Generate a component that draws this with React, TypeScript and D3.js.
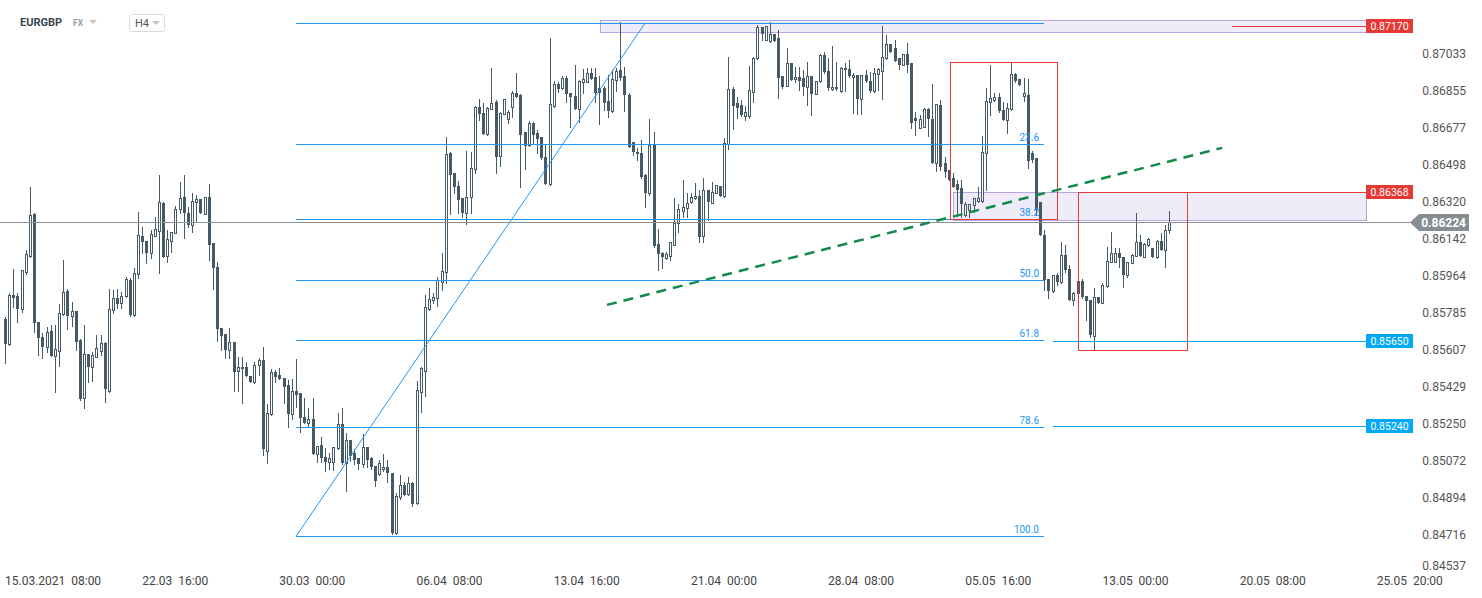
import React from 'react';
import * as d3 from 'd3';

// ---- data (EURGBP, H4) ----
const opens = [
0.85758,0.85637,0.85873,0.85868,0.85806,0.85984,0.86061,0.86264,0.85743,0.85671,
0.85622,0.85700,0.85579,0.85603,0.85782,0.85892,0.85772,0.85796,0.85656,0.85377,
0.85589,0.85526,0.85574,0.85603,0.85642,0.85410,0.85801,0.85859,0.85835,0.85868,
0.85945,0.85777,0.85974,0.86157,0.86133,0.86076,0.86157,0.86181,0.86316,0.86061,
0.86133,0.86172,0.86288,0.86345,0.86268,0.86210,0.86321,0.86336,0.86264,0.86345,
0.86124,0.86008,0.85714,0.85685,0.85608,0.85646,0.85507,0.85521,0.85526,0.85483,
0.85454,0.85536,0.85560,0.85121,0.85300,0.85502,0.85488,0.85473,0.85439,0.85300,
0.85410,0.85401,0.85285,0.85256,0.85276,0.85107,0.85150,0.85093,0.85068,0.85068,
0.85136,0.85251,0.85064,0.85174,0.85112,0.85088,0.85059,0.85141,0.85088,0.85049,
0.85010,0.85035,0.85044,0.85015,0.84726,0.84899,0.84957,0.84914,0.84967,0.84871,
0.85406,0.85507,0.85806,0.85849,0.85859,0.85936,0.85984,0.86557,0.86461,0.86398,
0.86341,0.86268,0.86345,0.86481,0.86779,0.86750,0.86649,0.86770,0.86803,0.86543,
0.86746,0.86721,0.86779,0.86847,0.86837,0.86659,0.86596,0.86702,0.86654,0.86635,
0.86538,0.86408,0.86784,0.86890,0.86871,0.86919,0.86847,0.86832,0.86770,0.86900,
0.86900,0.86943,0.86924,0.86871,0.86871,0.86808,0.86760,0.86909,0.86958,0.86929,
0.86837,0.86611,0.86562,0.86557,0.86452,0.86365,0.86596,0.86119,0.86076,0.86051,
0.86061,0.86114,0.86220,0.86278,0.86292,0.86321,0.86341,0.86350,0.86157,0.86379,
0.86316,0.86365,0.86398,0.86350,0.86601,0.86866,0.86799,0.86789,0.86736,0.86736,
0.86851,0.87015,0.87165,0.87102,0.87097,0.87131,0.87112,0.86929,0.86880,0.86991,
0.86914,0.86924,0.86919,0.86875,0.86929,0.86842,0.86904,0.87030,0.86953,0.86866,
0.86875,0.86856,0.86967,0.86962,0.86924,0.86934,0.86818,0.86934,0.86904,0.86856,
0.86938,0.86953,0.87015,0.87083,0.87064,0.87015,0.86982,0.87035,0.86991,0.86726,
0.86678,0.86683,0.86770,0.86721,0.86509,0.86789,0.86509,0.86476,0.86437,0.86408,
0.86389,0.86259,0.86283,0.86307,0.86326,0.86326,0.86557,0.86803,0.86813,0.86827,
0.86765,0.86717,0.86770,0.86938,0.86914,0.86832,0.86837,0.86557,0.86533,0.86321,
0.86162,0.85950,0.85892,0.85970,0.85936,0.86066,0.85998,0.85849,0.85941,0.85941,
0.85868,0.85849,0.85675,0.85863,0.85835,0.85916,0.86032,0.86032,0.86076,0.86056,
0.85970,0.86027,0.86061,0.86128,0.86056,0.86114,0.86100,0.86056,0.86133,0.86090,
0.86186];

const highs = [
0.85767,0.85883,0.85998,0.85883,0.85994,0.86090,0.86394,0.86268,0.85743,0.85690,
0.85719,0.85729,0.85729,0.85830,0.86042,0.85902,0.85839,0.85796,0.85661,0.85729,
0.85589,0.85598,0.85680,0.85680,0.85646,0.85902,0.85897,0.85902,0.85888,0.85960,
0.85955,0.86003,0.86273,0.86201,0.86133,0.86186,0.86249,0.86452,0.86321,0.86186,
0.86177,0.86302,0.86418,0.86452,0.86297,0.86365,0.86355,0.86336,0.86345,0.86408,
0.86124,0.86032,0.85714,0.85685,0.85714,0.85646,0.85574,0.85574,0.85550,0.85483,
0.85550,0.85570,0.85622,0.85348,0.85517,0.85512,0.85521,0.85473,0.85463,0.85468,
0.85565,0.85401,0.85377,0.85329,0.85377,0.85145,0.85189,0.85136,0.85112,0.85141,
0.85304,0.85329,0.85208,0.85174,0.85131,0.85088,0.85203,0.85141,0.85093,0.85049,
0.85078,0.85107,0.85078,0.85015,0.84919,0.85006,0.84972,0.84996,0.84972,0.85459,
0.85526,0.85873,0.85907,0.85883,0.85960,0.86076,0.86635,0.86562,0.86461,0.86423,
0.86341,0.86567,0.86562,0.86784,0.86818,0.86799,0.86779,0.86967,0.86813,0.86755,
0.86818,0.86765,0.86856,0.86943,0.86842,0.86659,0.86712,0.86707,0.86669,0.86635,
0.86596,0.87112,0.86904,0.86900,0.86929,0.86929,0.86847,0.86982,0.86909,0.86962,
0.86967,0.86967,0.86967,0.86929,0.86880,0.86934,0.86958,0.86967,0.87189,0.86972,
0.86847,0.86611,0.86582,0.86620,0.86456,0.86721,0.86659,0.86191,0.86080,0.86080,
0.86128,0.86341,0.86312,0.86427,0.86365,0.86365,0.86413,0.86379,0.86437,0.86379,
0.86418,0.86403,0.86398,0.86630,0.87020,0.86875,0.86827,0.86813,0.86784,0.86977,
0.87020,0.87174,0.87165,0.87170,0.87189,0.87131,0.87150,0.86929,0.87064,0.86991,
0.86972,0.86972,0.86958,0.86996,0.86929,0.86904,0.87035,0.87044,0.87015,0.87073,
0.86996,0.86972,0.86991,0.87006,0.86943,0.86934,0.86934,0.86958,0.86948,0.86967,
0.86967,0.87170,0.87126,0.87083,0.87102,0.87015,0.87035,0.87088,0.86991,0.86755,
0.86741,0.86775,0.86775,0.86890,0.86794,0.86813,0.86538,0.86476,0.86461,0.86427,
0.86427,0.86321,0.86312,0.86341,0.86394,0.86640,0.86871,0.86982,0.86847,0.86847,
0.86803,0.86799,0.86996,0.86943,0.86914,0.86919,0.86914,0.86567,0.86533,0.86321,
0.86186,0.85950,0.85970,0.85979,0.86128,0.86114,0.86018,0.85888,0.85945,0.85950,
0.85868,0.85849,0.85907,0.85863,0.85931,0.86104,0.86177,0.86100,0.86100,0.86056,
0.86032,0.86071,0.86268,0.86162,0.86124,0.86148,0.86100,0.86138,0.86172,0.86210,
0.86278];

const lows = [
0.85546,0.85632,0.85815,0.85743,0.85791,0.85974,0.86056,0.85695,0.85584,0.85570,
0.85598,0.85579,0.85406,0.85531,0.85777,0.85709,0.85724,0.85608,0.85367,0.85329,
0.85454,0.85459,0.85574,0.85584,0.85357,0.85406,0.85786,0.85810,0.85810,0.85863,
0.85772,0.85772,0.85955,0.86076,0.86027,0.86051,0.86157,0.85979,0.86056,0.86032,
0.86080,0.86172,0.86268,0.86148,0.86201,0.86177,0.86225,0.86268,0.86264,0.86042,
0.85902,0.85651,0.85608,0.85570,0.85570,0.85410,0.85410,0.85352,0.85483,0.85454,
0.85449,0.85488,0.85102,0.85064,0.85295,0.85454,0.85468,0.85352,0.85237,0.85276,
0.85333,0.85213,0.85256,0.85242,0.85107,0.85068,0.85068,0.85025,0.85035,0.85030,
0.85131,0.85059,0.84928,0.85073,0.85059,0.85035,0.85044,0.85044,0.85035,0.84952,
0.85006,0.85025,0.84972,0.84721,0.84721,0.84890,0.84909,0.84909,0.84856,0.84866,
0.85309,0.85386,0.85801,0.85835,0.85820,0.85897,0.85931,0.86264,0.86365,0.86268,
0.86249,0.86215,0.86268,0.86461,0.86717,0.86649,0.86644,0.86770,0.86461,0.86495,
0.86746,0.86702,0.86731,0.86827,0.86394,0.86481,0.86591,0.86601,0.86557,0.86529,
0.86408,0.86403,0.86779,0.86851,0.86866,0.86803,0.86683,0.86770,0.86707,0.86847,
0.86900,0.86914,0.86803,0.86698,0.86765,0.86731,0.86755,0.86856,0.86909,0.86760,
0.86586,0.86548,0.86524,0.86437,0.86297,0.86355,0.86104,0.85994,0.86003,0.86047,
0.86042,0.86114,0.86177,0.86249,0.86249,0.86316,0.86336,0.86128,0.86128,0.86235,
0.86316,0.86365,0.86350,0.86345,0.86577,0.86673,0.86726,0.86736,0.86717,0.86726,
0.86803,0.87010,0.87102,0.87102,0.87092,0.87097,0.86823,0.86871,0.86880,0.86909,
0.86900,0.86861,0.86837,0.86789,0.86741,0.86842,0.86900,0.86943,0.86861,0.86861,
0.86861,0.86851,0.86856,0.86924,0.86751,0.86746,0.86746,0.86900,0.86851,0.86851,
0.86861,0.86818,0.87010,0.87044,0.87001,0.86962,0.86982,0.86948,0.86678,0.86644,
0.86678,0.86683,0.86640,0.86509,0.86471,0.86476,0.86442,0.86427,0.86394,0.86254,
0.86249,0.86254,0.86249,0.86273,0.86321,0.86321,0.86379,0.86741,0.86808,0.86755,
0.86717,0.86654,0.86765,0.86900,0.86885,0.86808,0.86485,0.86514,0.86259,0.86162,
0.85897,0.85859,0.85888,0.85921,0.85931,0.85984,0.85849,0.85825,0.85859,0.85859,
0.85753,0.85671,0.85608,0.85835,0.85835,0.85912,0.86032,0.86032,0.86008,0.85912,
0.85960,0.86027,0.86061,0.86061,0.86056,0.86109,0.86056,0.86051,0.86090,0.86008,
0.86172];

const closes = [
0.85637,0.85873,0.85859,0.85806,0.85994,0.86071,0.86259,0.85738,0.85666,0.85622,
0.85695,0.85579,0.85613,0.85786,0.85888,0.85772,0.85796,0.85646,0.85372,0.85589,
0.85526,0.85584,0.85618,0.85642,0.85420,0.85806,0.85859,0.85830,0.85868,0.85950,
0.85777,0.85979,0.86162,0.86128,0.86076,0.86167,0.86191,0.86321,0.86056,0.86143,
0.86177,0.86288,0.86341,0.86268,0.86210,0.86326,0.86336,0.86268,0.86345,0.86114,
0.86003,0.85709,0.85675,0.85608,0.85646,0.85502,0.85526,0.85526,0.85483,0.85454,
0.85536,0.85560,0.85131,0.85304,0.85502,0.85478,0.85468,0.85430,0.85300,0.85410,
0.85391,0.85280,0.85256,0.85276,0.85107,0.85145,0.85088,0.85068,0.85088,0.85141,
0.85251,0.85064,0.85174,0.85097,0.85078,0.85059,0.85141,0.85078,0.85044,0.84976,
0.85064,0.85044,0.85015,0.84726,0.84904,0.84957,0.84909,0.84967,0.84866,0.85415,
0.85521,0.85815,0.85854,0.85863,0.85945,0.85989,0.86553,0.86452,0.86394,0.86331,
0.86268,0.86345,0.86485,0.86779,0.86746,0.86649,0.86774,0.86799,0.86538,0.86750,
0.86818,0.86755,0.86847,0.86827,0.86644,0.86591,0.86702,0.86644,0.86625,0.86533,
0.86408,0.86794,0.86890,0.86866,0.86919,0.86842,0.86827,0.86770,0.86904,0.86914,
0.86943,0.86914,0.86847,0.86847,0.86799,0.86760,0.86914,0.86953,0.86919,0.86837,
0.86586,0.86562,0.86553,0.86442,0.86365,0.86596,0.86109,0.86071,0.86056,0.86071,
0.86128,0.86220,0.86288,0.86297,0.86316,0.86345,0.86350,0.86152,0.86379,0.86321,
0.86370,0.86403,0.86350,0.86606,0.86866,0.86784,0.86774,0.86741,0.86755,0.86861,
0.87015,0.87165,0.87131,0.87170,0.87131,0.87097,0.86919,0.86875,0.86991,0.86909,
0.86924,0.86904,0.86875,0.86929,0.86842,0.86904,0.87030,0.86948,0.86871,0.86875,
0.86866,0.86967,0.86958,0.86929,0.86934,0.86818,0.86934,0.86904,0.86856,0.86943,
0.86962,0.87020,0.87083,0.87044,0.87001,0.86982,0.87035,0.86982,0.86702,0.86712,
0.86721,0.86770,0.86721,0.86509,0.86794,0.86490,0.86466,0.86427,0.86394,0.86379,
0.86312,0.86312,0.86312,0.86341,0.86341,0.86562,0.86808,0.86823,0.86827,0.86760,
0.86717,0.86775,0.86938,0.86904,0.86885,0.86847,0.86519,0.86524,0.86283,0.86162,
0.85945,0.85892,0.85970,0.85936,0.86066,0.85994,0.85849,0.85883,0.85878,0.85863,
0.85844,0.85680,0.85863,0.85835,0.85921,0.86037,0.86076,0.86076,0.86051,0.85970,
0.86032,0.86066,0.86128,0.86061,0.86119,0.86143,0.86056,0.86133,0.86090,0.86186,
0.86224];

const yTickValues = [0.87033, 0.86855, 0.86677, 0.86498, 0.86320, 0.86142, 0.85964, 0.85785,
  0.85607, 0.85429, 0.85250, 0.85072, 0.84894, 0.84716, 0.84537];

const xTickLabels = ['15.03.2021  08:00', '22.03  16:00', '30.03  00:00', '06.04  08:00', '13.04  16:00',
  '21.04  00:00', '28.04  08:00', '05.05  16:00', '13.05  00:00', '20.05  08:00', '25.05  20:00'];
const xTickIndex = [0, 33, 66, 99, 132, 165, 198, 231, 264, 297, 330];

const fibLevels = [0, 23.6, 38.2, 50, 61.8, 78.6, 100];
const fibLabels = ['', '23.6', '38.2', '50.0', '61.8', '78.6', '100.0'];
const fibLow = 0.84709;
const fibHigh = 0.87184;
const fibIndex = [70, 154, 250]; // start, end of trend, right extent

const trendLine = [ { i: 144.8, p: 0.85825 }, { i: 292.8, p: 0.86582 } ];

const zones = [
  { i0: 143.2, p0: 0.87199, p1: 0.87141 },
  { i0: 228, p0: 0.86368, p1: 0.86235 },
];
const boxes = [
  { i0: 227.2, i1: 253.1, p0: 0.86998, p1: 0.86238 },
  { i0: 258.2, i1: 284.3, p0: 0.86370, p1: 0.85608 },
];
const levelTags = [
  { p: 0.87170, text: '0.87170', color: '#e53935', from: 295.2 },
  { p: 0.86368, text: '0.86368', color: '#e53935', from: 278.1 },
  { p: 0.85650, text: '0.85650', color: '#03a9f4', from: 252.1 },
  { p: 0.85240, text: '0.85240', color: '#03a9f4', from: 252.1 },
];
const lastPrice = 0.86224;

export default function App() {
  const x = d3.scaleLinear().domain([0, closes.length - 1]).range([5, 1169]);
  const y = d3.scaleLinear().domain([0.84537, 0.872946]).range([572.1, 0]);
  const col = '#455a64';
  const blue = '#2196f3';
  const tagX = 1366;
  const font = 'Roboto, "Noto Sans", sans-serif';
  const hy = (p: number) => Math.round(y(p)) + 0.5;

  const fibY = (lv: number) => fibHigh - (lv / 100) * (fibHigh - fibLow);
  const lastY = hy(lastPrice);

  return (
    <div>
      <style>{`body{margin:0;background:#fff}`}</style>
      <svg width={1482} height={598} style={{ display: 'block', fontFamily: font }}>
        <rect x={0} y={0} width={1482} height={598} fill="#fff" />
        {/* zones */}
        {zones.map((z, k) => (
          <rect key={k} x={Math.round(x(z.i0)) + 0.5} y={hy(z.p0)}
            width={tagX - Math.round(x(z.i0))} height={Math.round(y(z.p1)) - Math.round(y(z.p0))}
            fill="rgba(103,58,183,0.1)" stroke="#b9a6e0" strokeWidth={1} />
        ))}
        {/* candles */}
        {closes.map((c, i) => {
          const o = opens[i];
          const px = Math.round(x(i));
          const up = c >= o;
          const yT = Math.round(y(Math.max(o, c)));
          const yB = Math.round(y(Math.min(o, c)));
          const yH = Math.round(y(highs[i]));
          const yL = Math.round(y(lows[i]));
          return (
            <g key={i}>
              <line x1={px + 0.5} x2={px + 0.5} y1={yH} y2={yL + 1} stroke={col} strokeWidth={1} />
              {up ? (
                <rect x={px - 0.5} y={yT + 0.5} width={2} height={Math.max(yB - yT, 1)} fill="#fff" stroke={col} strokeWidth={1} />
              ) : (
                <rect x={px - 1} y={yT} width={3} height={Math.max(yB - yT, 1)} fill={col} />
              )}
            </g>
          );
        })}
        {/* fibonacci */}
        {fibLevels.map((lv, k) => {
          const yy = hy(fibY(lv));
          return (
            <g key={k}>
              <line x1={Math.round(x(fibIndex[0]))} x2={Math.round(x(fibIndex[2]))} y1={yy} y2={yy} stroke={blue} strokeWidth={1} />
              <text x={Math.round(x(fibIndex[2])) - 5} y={yy - 4} textAnchor="end" fontSize={10} fill={blue}>{fibLabels[k]}</text>
            </g>
          );
        })}
        <line x1={x(fibIndex[0])} y1={y(fibLow)} x2={x(fibIndex[1])} y2={y(fibHigh)} stroke={blue} strokeWidth={1} />
        {/* last price line */}
        <line x1={0} x2={1410} y1={lastY} y2={lastY} stroke="#8a9296" strokeWidth={1} />
        {/* boxes */}
        {boxes.map((b, k) => (
          <rect key={k} x={Math.round(x(b.i0)) + 0.5} y={hy(b.p0)}
            width={Math.round(x(b.i1)) - Math.round(x(b.i0))} height={Math.round(y(b.p1)) - Math.round(y(b.p0))}
            fill="none" stroke="#e53935" strokeWidth={1} />
        ))}
        {/* trend line */}
        <line x1={x(trendLine[0].i)} y1={y(trendLine[0].p)} x2={x(trendLine[1].i)} y2={y(trendLine[1].p)}
          stroke="#138a4c" strokeWidth={2.5} strokeDasharray="10 7" />
        {/* level lines and tags */}
        {levelTags.map((t, k) => {
          const yy = hy(t.p);
          return (
            <g key={k}>
              <line x1={x(t.from)} x2={tagX} y1={yy} y2={yy} stroke={t.color} strokeWidth={1} />
              <rect x={tagX} y={Math.round(y(t.p)) - 7} width={47} height={14} fill={t.color} />
              <text x={tagX + 23.5} y={Math.round(y(t.p)) + 3.8} textAnchor="middle" fontSize={10.5} fill="#fff">{t.text}</text>
            </g>
          );
        })}
        {/* y axis */}
        {yTickValues.map((v, k) => (
          <text key={k} x={1466} y={Math.min(y(v), 566) + 4} textAnchor="end" fontSize={12} fill="#555">{v.toFixed(5)}</text>
        ))}
        {/* last price tag */}
        <polygon points={`1410,${lastY} 1419,${lastY - 8.5} 1469,${lastY - 8.5} 1469,${lastY + 8.5} 1419,${lastY + 8.5}`} fill="#868e92" />
        <text x={1466} y={lastY + 4.5} textAnchor="end" fontSize={12} fontWeight="bold" fill="#fff">{lastPrice.toFixed(5)}</text>
        {/* x axis */}
        {xTickLabels.map((l, k) => (
          <text key={k} x={x(xTickIndex[k])} y={585} fontSize={12} fill="#444" style={{ whiteSpace: 'pre' }}>{l}</text>
        ))}
        {/* header */}
        <text x={20} y={26} fontSize={11} fontWeight="bold" fill="#37474f">EURGBP</text>
        <text x={73} y={26} fontSize={8.5} fontWeight="bold" fill="#90a4ae">FX</text>
        <polygon points="89,20 97,20 93,24" fill="#c5c5c5" />
        <rect x={129.5} y={14.5} width={35} height={17} rx={2} fill="#fff" stroke="#dcdcdc" />
        <text x={135} y={27} fontSize={11} fill="#455a64">H4</text>
        <polygon points="152,21 160,21 156,25" fill="#c5c5c5" />
      </svg>
    </div>
  );
}
